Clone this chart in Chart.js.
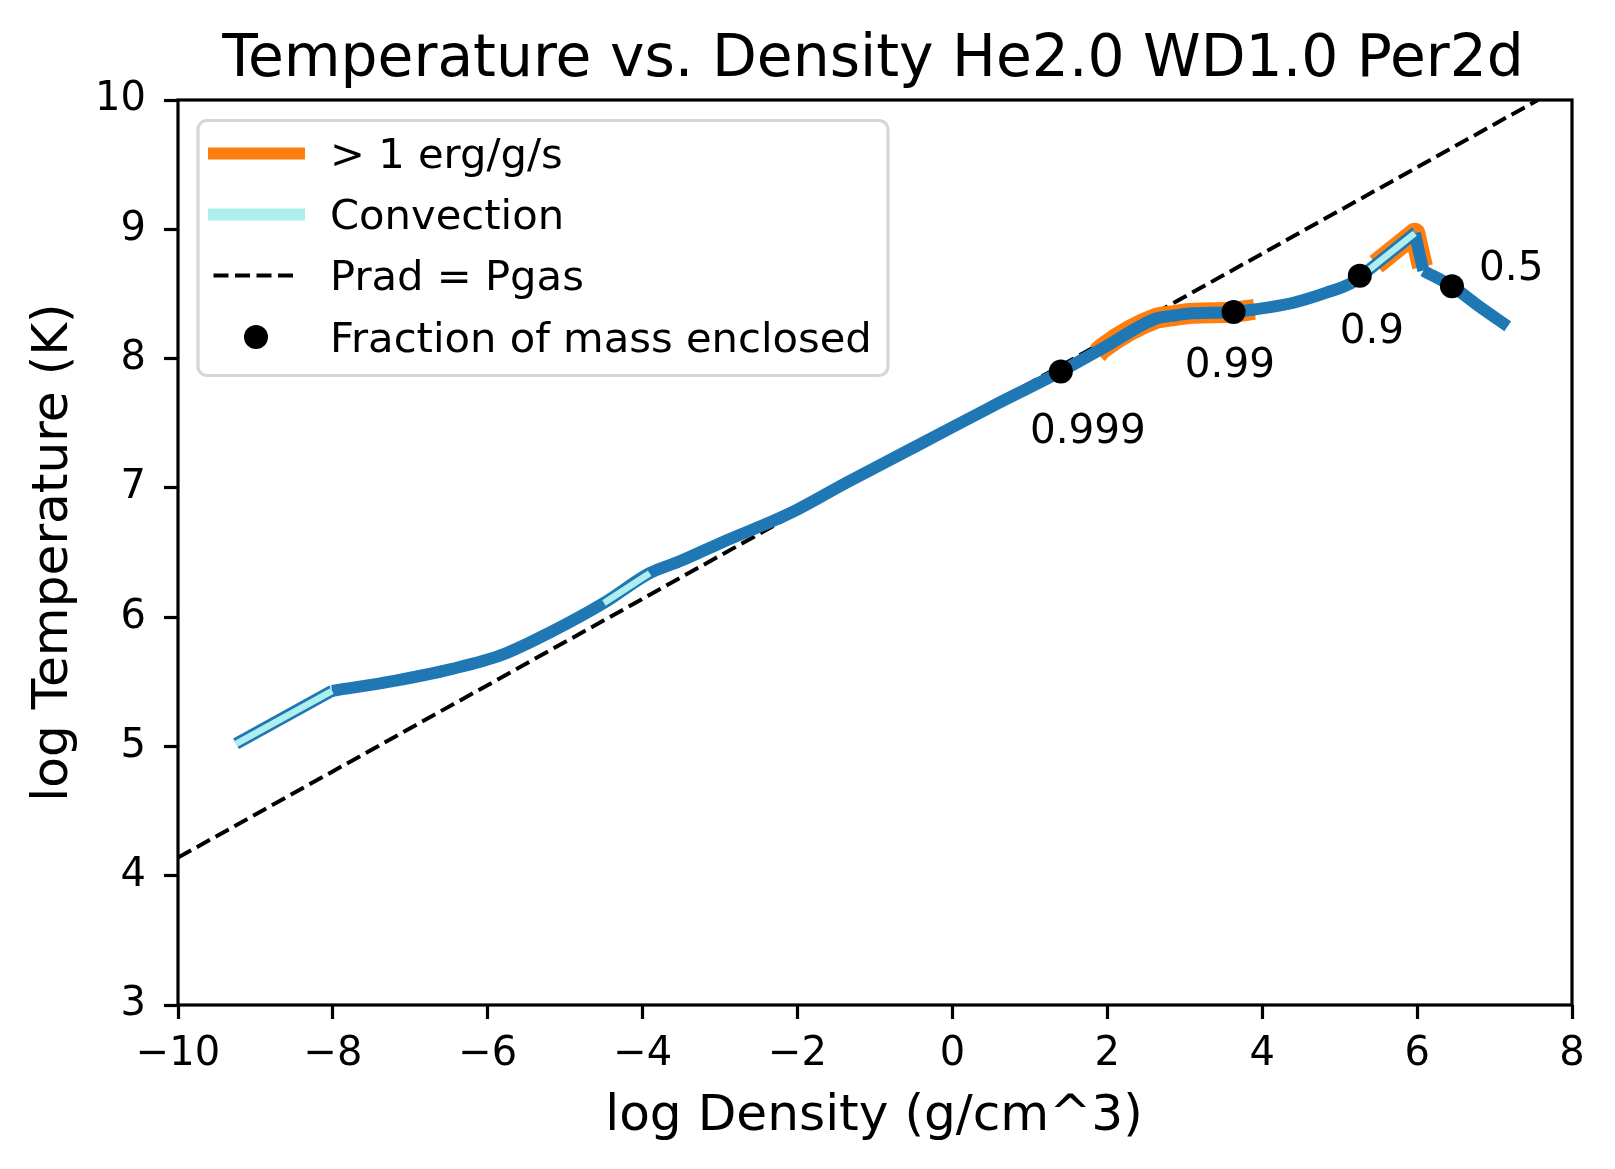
<!DOCTYPE html>
<html>
<head>
<meta charset="utf-8">
<title>Temperature vs. Density</title>
<script src="https://cdn.jsdelivr.net/npm/chart.js@4.4.1/dist/chart.umd.min.js"></script>
<style>
  html, body { margin: 0; padding: 0; background: #fff; }
  #wrap { width: 1615px; height: 1169px; }
</style>
</head>
<body>
<div id="wrap"><canvas id="tdChart" width="1615" height="1169"></canvas></div>
<script>
// stellar profile, log rho vs log T
var logRho = [-9.25, -8.01, -7.32, -6.46, -5.81, -5.17, -4.50, -3.91, -3.53, -2.97, -2.11, -1.37, -0.38, 0.48,
              1.40, 1.94, 2.63, 2.83, 3.10, 3.63, 3.90, 4.39, 4.83, 5.14, 5.26, 5.97, 6.08, 6.45, 6.81, 7.17];
var logT   = [5.02, 5.43, 5.495, 5.60, 5.71, 5.89, 6.11, 6.34, 6.43, 6.58, 6.80, 7.04, 7.35, 7.62,
              7.90, 8.08, 8.31, 8.33, 8.35, 8.36, 8.38, 8.43, 8.51, 8.58, 8.63, 8.97, 8.68, 8.56, 8.40, 8.25];
// indices where the profile has a sharp corner
var kinks = [1, 24, 25, 26];

// convective zones
var convRho = [[-9.25, -8.01], [-4.50, -3.91], [5.14, 5.26, 5.97]];
var convT   = [[5.02, 5.43], [6.11, 6.34], [8.58, 8.63, 8.97]];

// burning > 1 erg/g/s
var burnRho = [[1.87, 1.94, 2.63, 2.83, 3.10, 3.63, 3.90], [5.47, 5.97, 6.07]];
var burnT   = [[8.04, 8.08, 8.31, 8.33, 8.35, 8.36, 8.38], [8.73, 8.97, 8.71]];

// Prad = Pgas line
var pradRho = [-10, 7.56];
var pradT   = [4.14, 10.0];

// fraction of mass enclosed
var massRho   = [1.40, 3.63, 5.26, 6.45];
var massT     = [7.90, 8.36, 8.64, 8.56];
var massLabel = ['0.999', '0.99', '0.9', '0.5'];

var xTicks = [-10, -8, -6, -4, -2, 0, 2, 4, 6, 8];
var yTicks = [3, 4, 5, 6, 7, 8, 9, 10];

var FONT = '"DejaVu Sans", Verdana, sans-serif';
var BLUE = '#1f77b4', ORANGE = '#ff7f0e', CYAN = '#afeeee';
var STRAIGHT = { cubicInterpolationMode: 'default', tension: 0 };

function pts(xs, ys) {
	return xs.map(function(x, i) { return { x: x, y: ys[i] }; });
}

function lineSet(data, color, width, order, extra) {
	var ds = {
		data: data,
		showLine: true,
		borderColor: color,
		borderWidth: width,
		borderCapStyle: 'butt',
		borderJoinStyle: 'round',
		pointRadius: 0,
		pointHoverRadius: 0,
		cubicInterpolationMode: 'monotone',
		order: order
	};
	for (var k in extra) ds[k] = extra[k];
	return ds;
}

var datasets = [];
datasets.push(lineSet(pts(pradRho, pradT), '#000', 4, 5, { borderDash: [15, 6.5] }));
datasets.push(lineSet(pts(burnRho[0], burnT[0]), ORANGE, 21, 4));
datasets.push(lineSet(pts(burnRho[1], burnT[1]), ORANGE, 21, 4, STRAIGHT));
// main profile, split at the corners so they stay sharp
var cuts = [0].concat(kinks, [logRho.length - 1]);
for (var c = 0; c < cuts.length - 1; c++) {
	datasets.push(lineSet(pts(logRho.slice(cuts[c], cuts[c + 1] + 1), logT.slice(cuts[c], cuts[c + 1] + 1)), BLUE, 12, 3));
}
convRho.forEach(function(r, i) {
	datasets.push(lineSet(pts(r, convT[i]), CYAN, 6.5, 2, STRAIGHT));
});
datasets.push({
	data: pts(massRho, massT),
	showLine: false,
	pointRadius: 12,
	pointHoverRadius: 12,
	pointBackgroundColor: '#000',
	pointBorderWidth: 0,
	order: 1
});

function drawLegend(ctx) {
	var x0 = 198, y0 = 120.5, w = 690, h = 255, r = 9;
	ctx.save();
	ctx.beginPath();
	ctx.roundRect(x0, y0, w, h, r);
	ctx.fillStyle = 'rgba(255,255,255,0.8)';
	ctx.fill();
	ctx.lineWidth = 3.2;
	ctx.strokeStyle = '#d6d6d6';
	ctx.stroke();

	var rows = [153.5, 214.5, 275.5, 337];
	ctx.lineCap = 'butt';
	// orange
	ctx.beginPath(); ctx.moveTo(208, rows[0]); ctx.lineTo(305, rows[0]);
	ctx.strokeStyle = ORANGE; ctx.lineWidth = 12; ctx.stroke();
	// cyan
	ctx.beginPath(); ctx.moveTo(208, rows[1]); ctx.lineTo(305, rows[1]);
	ctx.strokeStyle = CYAN; ctx.lineWidth = 12; ctx.stroke();
	// dashed
	ctx.beginPath(); ctx.moveTo(213.5, rows[2]); ctx.lineTo(297, rows[2]);
	ctx.setLineDash([15, 6.5]); ctx.strokeStyle = '#000'; ctx.lineWidth = 4; ctx.stroke();
	ctx.setLineDash([]);
	// dot
	ctx.beginPath(); ctx.arc(256, rows[3], 12, 0, Math.PI * 2);
	ctx.fillStyle = '#000'; ctx.fill();

	var texts = ['> 1 erg/g/s', 'Convection', 'Prad = Pgas', 'Fraction of mass enclosed'];
	ctx.font = '41.7px ' + FONT;
	ctx.textAlign = 'left';
	ctx.textBaseline = 'alphabetic';
	texts.forEach(function(t, i) { ctx.fillText(t, 330, rows[i] + 14.5); });
	ctx.restore();
}

var decorPlugin = {
	id: 'decor',
	afterDatasetsDraw: function(chart, args, opts) {
		var ctx = chart.ctx, a = chart.chartArea;
		var xs = chart.scales.x, ys = chart.scales.y;
		ctx.save();
		ctx.font = '40.5px ' + FONT;
		ctx.fillStyle = '#000';
		ctx.textAlign = 'left';
		ctx.textBaseline = 'alphabetic';
		massLabel.forEach(function(t, i) {
			var at = opts.labelAt[i];
			ctx.fillText(t, xs.getPixelForValue(at[0]), ys.getPixelForValue(at[1]));
		});
		ctx.lineWidth = 3.2;
		ctx.strokeStyle = '#000';
		ctx.strokeRect(a.left, a.top, a.right - a.left, a.bottom - a.top);
		ctx.restore();
		drawLegend(ctx);
	},
	afterDraw: function(chart) {
		var ctx = chart.ctx, a = chart.chartArea;
		var cx = (a.left + a.right) / 2, cy = (a.top + a.bottom) / 2;
		ctx.save();
		ctx.fillStyle = '#000';
		ctx.textAlign = 'center';
		ctx.textBaseline = 'alphabetic';
		ctx.font = '58.3px ' + FONT;
		ctx.fillText('Temperature vs. Density He2.0 WD1.0 Per2d', cx - 2, 76);
		ctx.font = '50.2px ' + FONT;
		ctx.fillText('log Density (g/cm^3)', cx - 1, 1130);
		ctx.translate(67, cy);
		ctx.rotate(-Math.PI / 2);
		ctx.fillText('log Temperature (K)', 0, 0);
		ctx.restore();
	}
};

function minusTick(v) {
	return v < 0 ? '\u2212' + Math.abs(v) : '' + v;
}

new Chart(document.getElementById('tdChart'), {
	type: 'scatter',
	data: { datasets: datasets },
	options: {
		responsive: false,
		animation: false,
		events: [],
		layout: { padding: { left: 0, right: 43, top: 100, bottom: 0 } },
		plugins: {
			legend: { display: false },
			tooltip: { enabled: false },
			title: { display: false },
			decor: { labelAt: [[1.0, 7.35], [3.0, 7.86], [5.0, 8.12], [6.8, 8.61]] }
		},
		scales: {
			x: {
				type: 'linear',
				min: -10,
				max: 8,
				afterBuildTicks: function(s) { s.ticks = xTicks.map(function(v) { return { value: v }; }); },
				afterFit: function(s) { s.height = 164; },
				border: { display: false },
				grid: { drawOnChartArea: false, drawTicks: true, tickLength: 14, tickWidth: 3.2, tickColor: '#000' },
				ticks: { color: '#000', padding: 12, maxRotation: 0, autoSkip: false, font: { family: FONT, size: 40 }, callback: minusTick }
			},
			y: {
				type: 'linear',
				min: 3,
				max: 10,
				afterBuildTicks: function(s) { s.ticks = yTicks.map(function(v) { return { value: v }; }); },
				afterFit: function(s) { s.width = 178; },
				border: { display: false },
				grid: { drawOnChartArea: false, drawTicks: true, tickLength: 14, tickWidth: 3.2, tickColor: '#000' },
				ticks: { color: '#000', padding: 18, autoSkip: false, font: { family: FONT, size: 40 }, callback: minusTick }
			}
		}
	},
	plugins: [decorPlugin]
});
</script>
</body>
</html>
